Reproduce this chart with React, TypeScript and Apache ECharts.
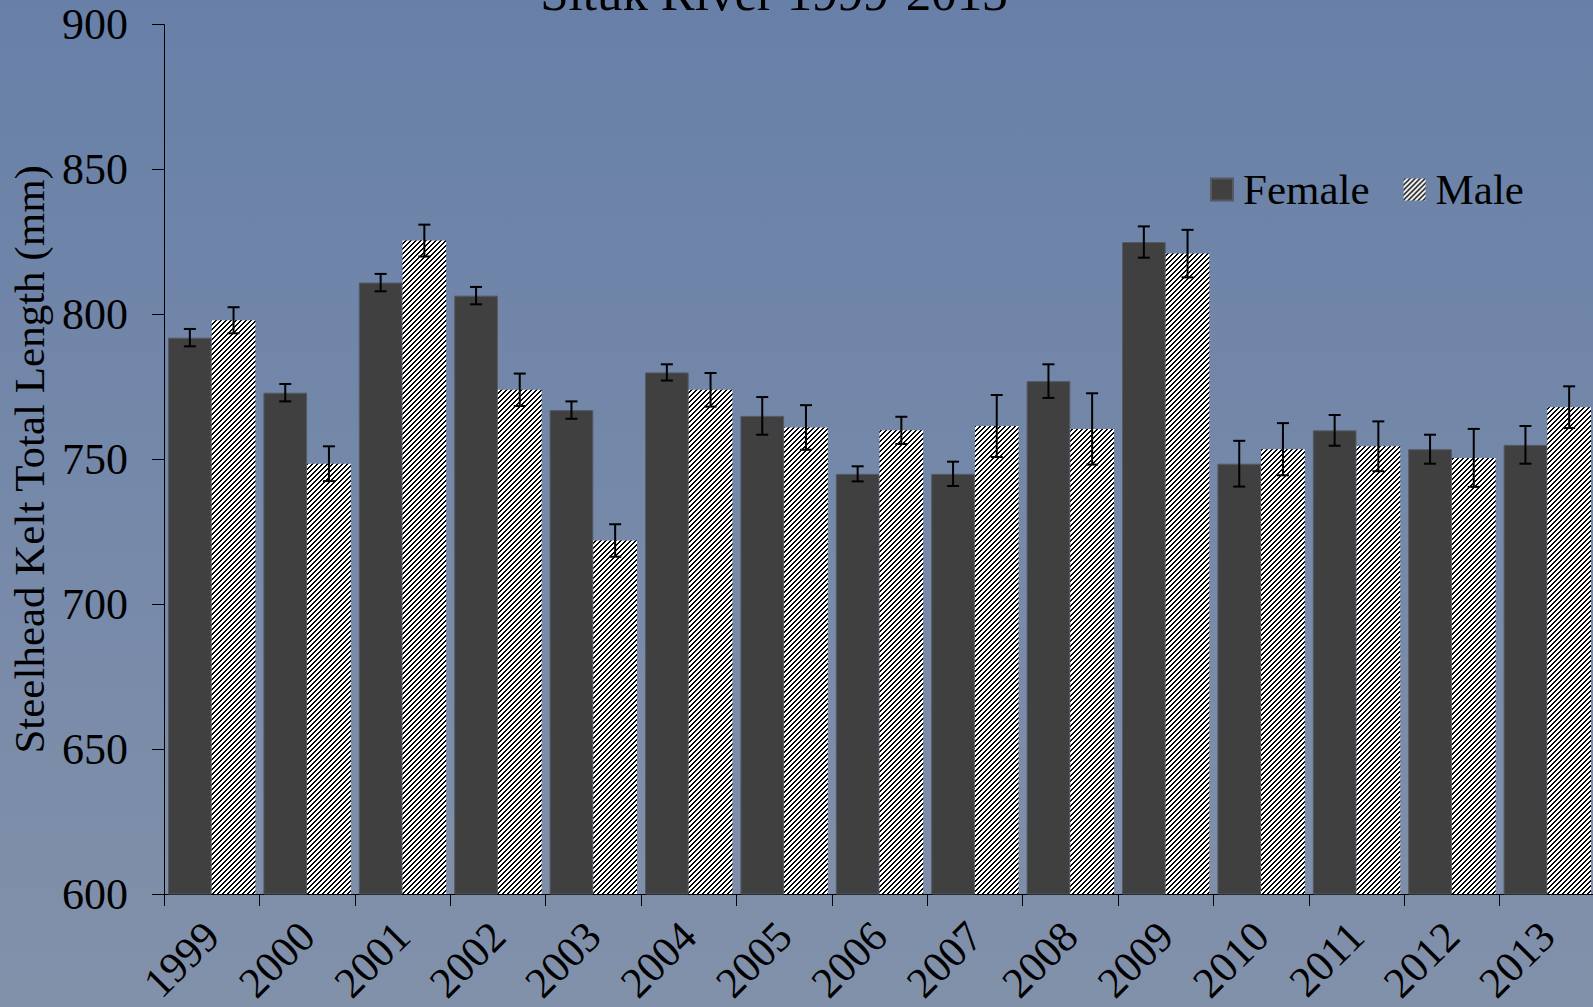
import React, { useEffect, useRef } from "react";
import * as echarts from "echarts";

const years = ["1999", "2000", "2001", "2002", "2003", "2004", "2005", "2006", "2007", "2008", "2009", "2010", "2011", "2012", "2013"];
const femaleMean = [792, 773, 811, 806.5, 767, 780, 765, 745, 745, 777, 825, 748.5, 760, 753.5, 755];
const femaleErr = [3, 3, 3, 3, 3, 2.8, 6.5, 2.6, 4.2, 5.8, 5.4, 7.9, 5.3, 5, 6.5];
const maleMean = [798, 748.5, 825.5, 774, 722, 774, 761, 760, 761.5, 760.5, 821, 753.5, 754.5, 750.5, 768];
const maleErr = [4.5, 6, 5.5, 5.6, 5.6, 5.8, 7.7, 4.7, 10.7, 12.3, 8.2, 9, 8.6, 10, 7.2];
const yTicks = { min: 600, max: 900, interval: 50 };
const titleText = "Situk River 1999-2013";
const yTitle = "Steelhead Kelt Total Length (mm)";

const FONT = "'Liberation Serif', 'Times New Roman', serif";
const BAR_W = 0.458;

function makeHatch(): string {
  const s = 5;
  const c = document.createElement("canvas");
  c.width = s;
  c.height = s;
  const ctx = c.getContext("2d")!;
  const img = ctx.createImageData(s, s);
  for (let y = 0; y < s; y++) {
    for (let x = 0; x < s; x++) {
      const black = (x + y) % s < 2;
      const i = (y * s + x) * 4;
      const v = black ? 0 : 255;
      img.data[i] = v;
      img.data[i + 1] = v;
      img.data[i + 2] = v;
      img.data[i + 3] = 255;
    }
  }
  ctx.putImageData(img, 0, 0);
  return c.toDataURL();
}

function errorSeries(name: string, means: number[], errs: number[], side: number) {
  return {
    type: "custom",
    name: name + "-err",
    z: 10,
    silent: true,
    data: means.map((m, i) => [i, m - errs[i], m + errs[i]]),
    encode: { x: 0, y: [1, 2] },
    renderItem: (params: any, api: any) => {
      const idx = api.value(0);
      const lo = api.coord([idx, api.value(1)]);
      const hi = api.coord([idx, api.value(2)]);
      const bw = api.size([1, 0])[0] * BAR_W;
      const x = lo[0] + side * bw / 2;
      const cap = 6;
      const style = { stroke: "#000", lineWidth: 2 };
      return {
        type: "group",
        children: [
          { type: "line", shape: { x1: x, y1: lo[1], x2: x, y2: hi[1] }, style },
          { type: "line", shape: { x1: x - cap, y1: lo[1], x2: x + cap, y2: lo[1] }, style },
          { type: "line", shape: { x1: x - cap, y1: hi[1], x2: x + cap, y2: hi[1] }, style },
        ],
      };
    },
  };
}

export default function App() {
  const ref = useRef<HTMLDivElement>(null);
  useEffect(() => {
    const chart = echarts.init(ref.current!, null, { renderer: "svg" });
    const hatch = {
      image: makeHatch(),
      repeat: "repeat",
      imageWidth: 5,
      imageHeight: 5,
    };
    chart.setOption({
      animation: false,
      backgroundColor: {
        type: "linear",
        x: 0, y: 0, x2: 0, y2: 1,
        colorStops: [
          { offset: 0, color: "#6880a8" },
          { offset: 1, color: "#8291aa" },
        ],
      },
      textStyle: { fontFamily: FONT },
      graphic: [
        {
          type: "text",
          x: 774,
          y: -7,
          style: {
            text: titleText,
            font: `51px ${FONT}`,
            fill: "#000",
            textAlign: "center",
            textVerticalAlign: "middle",
          },
        },
      ],
      legend: {
        data: ["Female", "Male"],
        left: 1210,
        top: 168,
        padding: 0,
        itemWidth: 22,
        itemHeight: 22,
        itemGap: 34,
        icon: "rect",
        textStyle: { fontFamily: FONT, fontSize: 43, color: "#000", padding: [0, 0, 0, 5] },
      },
      grid: { left: 164, right: -2, top: 24.7, bottom: 113, containLabel: false, outerBoundsMode: "none" },
      xAxis: {
        type: "category",
        data: years,
        axisLine: { lineStyle: { color: "#000", width: 1 } },
        axisTick: { show: true, length: 12, lineStyle: { color: "#000" } },
        axisLabel: { rotate: 45, fontFamily: FONT, fontSize: 43, color: "#000", margin: 35, interval: 0 },
      },
      yAxis: {
        type: "value",
        min: yTicks.min,
        max: yTicks.max,
        interval: yTicks.interval,
        name: yTitle,
        nameLocation: "middle",
        nameGap: 112,
        nameTextStyle: { fontFamily: FONT, fontSize: 43, color: "#000" },
        axisLine: { show: true, lineStyle: { color: "#000", width: 1 } },
        axisTick: { show: true, length: 12, lineStyle: { color: "#000" } },
        axisLabel: { fontFamily: FONT, fontSize: 44, color: "#000", margin: 36 },
        splitLine: { show: false },
      },
      series: [
        {
          name: "Female",
          type: "bar",
          data: femaleMean,
          barWidth: (BAR_W * 100) + "%",
          barGap: "0%",
          itemStyle: { color: "#404040", borderColor: "#555a63", borderWidth: 1 },
        },
        {
          name: "Male",
          type: "bar",
          data: maleMean,
          barWidth: (BAR_W * 100) + "%",
          barGap: "0%",
          itemStyle: { color: hatch },
        },
        errorSeries("Female", femaleMean, femaleErr, -1),
        errorSeries("Male", maleMean, maleErr, 1),
      ],
    });
    return () => chart.dispose();
  }, []);
  return <div ref={ref} style={{ position: "fixed", left: 0, top: 0, width: 1593, height: 1007 }} />;
}
